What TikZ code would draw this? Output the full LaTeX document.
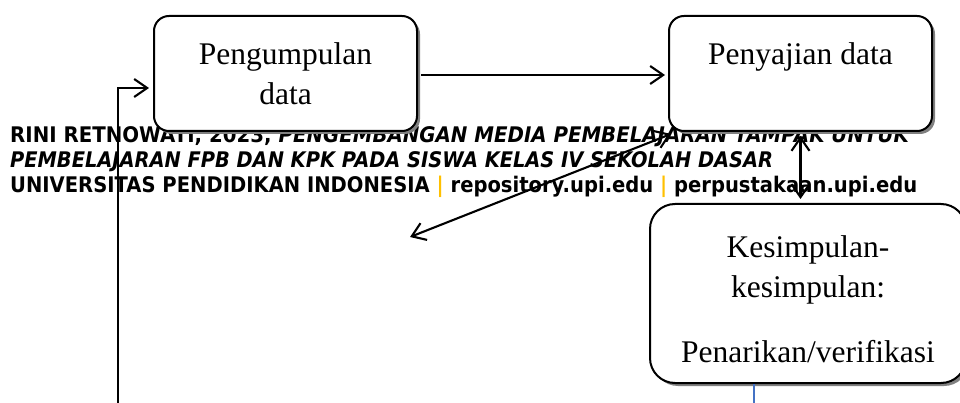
\documentclass[tikz,border=0pt]{standalone}
\usepackage{fontspec}
\usepackage{graphicx}
\setmainfont{Liberation Serif}
\newfontfamily\wmfont{DejaVu Sans}
\usetikzlibrary{arrows.meta,shadows}
\definecolor{wmorange}{HTML}{FFC000}
\definecolor{linkblue}{HTML}{4472C4}
\newsavebox\wmlinebox
\newdimen\wmwidth
\newcommand\wmtext[1]{{\wmfont\bfseries\fontsize{21.5}{25}\selectfont #1}}
\newcommand\fitline[2]{%
  \sbox\wmlinebox{\wmtext{#2}}%
  \wmwidth=\wd\wmlinebox
  \pgfmathsetmacro\wmfactor{#1/\wmwidth}%
  \scalebox{\wmfactor}[1]{\usebox\wmlinebox}}
\begin{document}
\begin{tikzpicture}[x=1pt,y=-1pt,
  box/.style={draw, line width=2pt, fill=white, rounded corners=15pt,
    align=center, font=\fontsize{31.5}{40}\selectfont, inner sep=0pt,
    drop shadow={shadow xshift=3pt, shadow yshift=-3pt, fill=black!50, opacity=1}},
  conn/.style={line width=2.1pt, -{Straight Barb[length=13pt,width=18pt]}},
  dconn/.style={line width=2.1pt, {Straight Barb[length=13pt,width=18pt]}-{Straight Barb[length=13pt,width=18pt]}},
  wm/.style={anchor=base west, inner sep=0pt}]
\useasboundingbox (0,0) rectangle (960,403);
\clip (0,0) rectangle (960,403);
% watermark text (behind the diagram)
\node[wm] (wmA) at (10,143) {\fitline{900}{RINI RETNOWATI, 2023, \textit{PENGEMBANGAN MEDIA PEMBELAJARAN TAMPAK UNTUK}}};
\node[wm] (wmB) at (10,168) {\fitline{763}{\itshape PEMBELAJARAN FPB DAN KPK PADA SISWA KELAS IV SEKOLAH DASAR}};
\node[wm] (wmC) at (10,193) {\fitline{907}{UNIVERSITAS PENDIDIKAN INDONESIA \textcolor{wmorange}{|} repository.upi.edu \textcolor{wmorange}{|} perpustakaan.upi.edu}};
% boxes
\node[box, minimum width=263pt, minimum height=115pt] (collect) at (285.5,73.5) {Pengumpulan\\data};
\node[box, minimum width=263pt, minimum height=115pt] (present) at (800.5,73.5) {Penyajian data\\\mbox{}};
\node[box, rounded corners=25pt, minimum width=316pt, minimum height=179pt, text height=137.5pt] (conclude) at (808,293.5) {Kesimpulan-\\kesimpulan:\\[25pt]Penarikan/verifikasi};
% connectors
\coordinate (fbfoot) at (118,403);
\coordinate (diagend) at (410,237);
\coordinate (bluefoot) at (754,403);
\draw[conn, shorten <=3pt, shorten >=3pt] ([yshift=-1.5pt]collect.east) -- ([yshift=-1.5pt]present.west);
\draw[conn, shorten >=4pt] (fbfoot) |- ([yshift=-14.5pt]collect.west);
\draw[dconn, shorten <=4pt, shorten >=4pt] (present.south) -- (present.south |- conclude.north);
\draw[dconn] (diagend) -- ([xshift=3pt,yshift=-2pt]present.south west);
\draw[linkblue, line width=1.2pt] (conclude.south -| bluefoot) -- (bluefoot);
\end{tikzpicture}
\end{document}
